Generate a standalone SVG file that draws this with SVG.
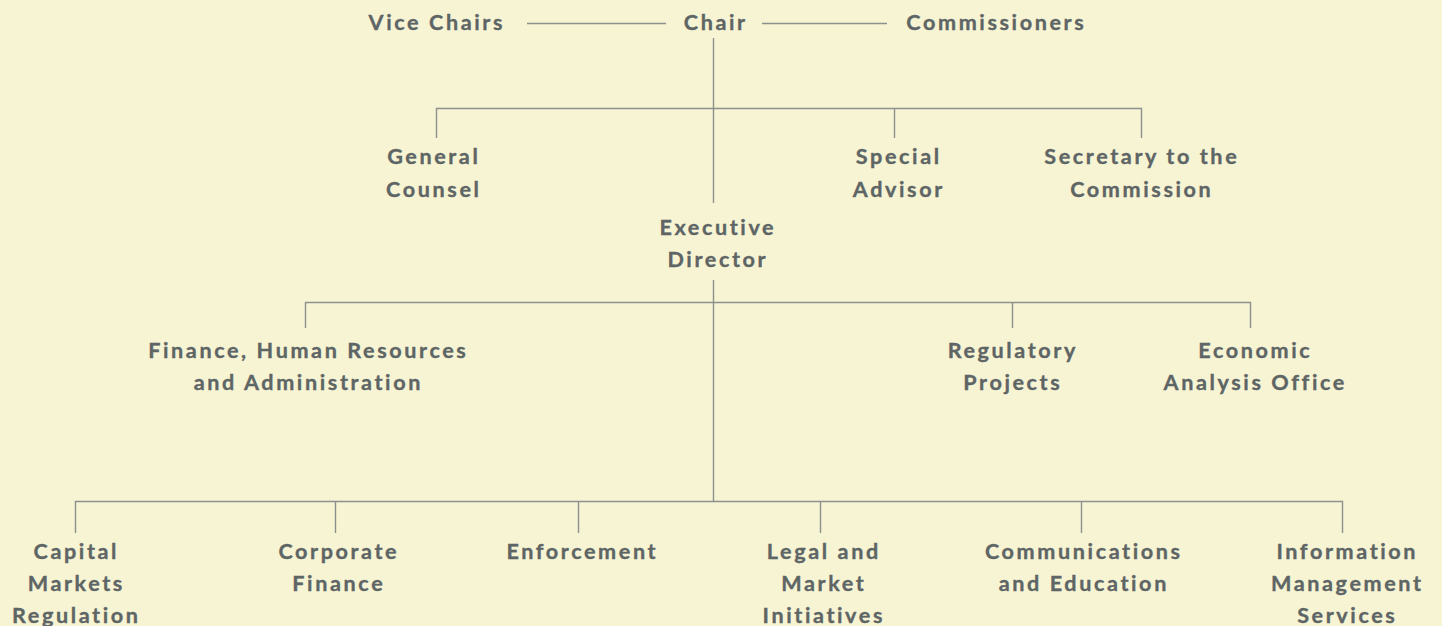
<svg xmlns="http://www.w3.org/2000/svg" width="1442" height="626" viewBox="0 0 1442 626">
  <style>
    .bg { fill: #f7f4d4; }
    .lbl { font-family: Lato, "Open Sans", "Liberation Sans", sans-serif; font-weight: 700; font-size: 21.6px; letter-spacing: 2.6px; fill: #5e6565; text-anchor: middle; stroke: #5e6565; stroke-width: 0.35px; }
    .wire { stroke: #8d918d; stroke-width: 1.4; fill: none; }
  </style>
  <rect class="bg" x="0" y="0" width="1442" height="626"/>

  <!-- reporting lines -->
  <g id="connectors" class="wire">
    <path d="M527 23.5H666M762 23.5H887"/>
    <path d="M713.5 38V203"/>
    <path d="M436.5 138V108.5H1141.5V138M894.5 108.5V138"/>
    <path d="M713.5 280V501"/>
    <path d="M305.5 328V302.5H1250.5V328M1012.5 302.5V328"/>
    <path d="M75.5 533V501.5H1342.5V533M335.5 501.5V533M578.5 501.5V533M820.5 501.5V533M1081.5 501.5V533"/>
  </g>

  <!-- board level -->
  <g id="vice-chairs"><text class="lbl" x="436.8" y="30">Vice Chairs</text></g>
  <g id="chair"><text class="lbl" x="715.8" y="30">Chair</text></g>
  <g id="commissioners"><text class="lbl" x="996.3" y="30">Commissioners</text></g>

  <!-- offices reporting to the chair -->
  <g id="general-counsel">
    <text class="lbl" x="433.8" y="164">General</text>
    <text class="lbl" x="433.8" y="197">Counsel</text>
  </g>
  <g id="special-advisor">
    <text class="lbl" x="898.8" y="164">Special</text>
    <text class="lbl" x="898.8" y="197">Advisor</text>
  </g>
  <g id="secretary">
    <text class="lbl" x="1141.8" y="164">Secretary to the</text>
    <text class="lbl" x="1141.8" y="197">Commission</text>
  </g>
  <g id="executive-director">
    <text class="lbl" x="717.8" y="235">Executive</text>
    <text class="lbl" x="717.8" y="267">Director</text>
  </g>

  <!-- offices reporting to the executive director -->
  <g id="finance-hr-admin">
    <text class="lbl" x="308.3" y="358">Finance, Human Resources</text>
    <text class="lbl" x="308.3" y="390">and Administration</text>
  </g>
  <g id="regulatory-projects">
    <text class="lbl" x="1012.8" y="358">Regulatory</text>
    <text class="lbl" x="1012.8" y="390">Projects</text>
  </g>
  <g id="economic-analysis">
    <text class="lbl" x="1255.3" y="358">Economic</text>
    <text class="lbl" x="1255.3" y="390">Analysis Office</text>
  </g>

  <!-- branches -->
  <g id="capital-markets">
    <text class="lbl" x="76.3" y="559">Capital</text>
    <text class="lbl" x="76.3" y="591">Markets</text>
    <text class="lbl" x="76.3" y="623">Regulation</text>
  </g>
  <g id="corporate-finance">
    <text class="lbl" x="338.8" y="559">Corporate</text>
    <text class="lbl" x="338.8" y="591">Finance</text>
  </g>
  <g id="enforcement">
    <text class="lbl" x="582.3" y="559">Enforcement</text>
  </g>
  <g id="legal-market">
    <text class="lbl" x="823.8" y="559">Legal and</text>
    <text class="lbl" x="823.8" y="591">Market</text>
    <text class="lbl" x="823.8" y="623">Initiatives</text>
  </g>
  <g id="communications">
    <text class="lbl" x="1083.8" y="559">Communications</text>
    <text class="lbl" x="1083.8" y="591">and Education</text>
  </g>
  <g id="information-management">
    <text class="lbl" x="1347.3" y="559">Information</text>
    <text class="lbl" x="1347.3" y="591">Management</text>
    <text class="lbl" x="1347.3" y="623">Services</text>
  </g>
</svg>
